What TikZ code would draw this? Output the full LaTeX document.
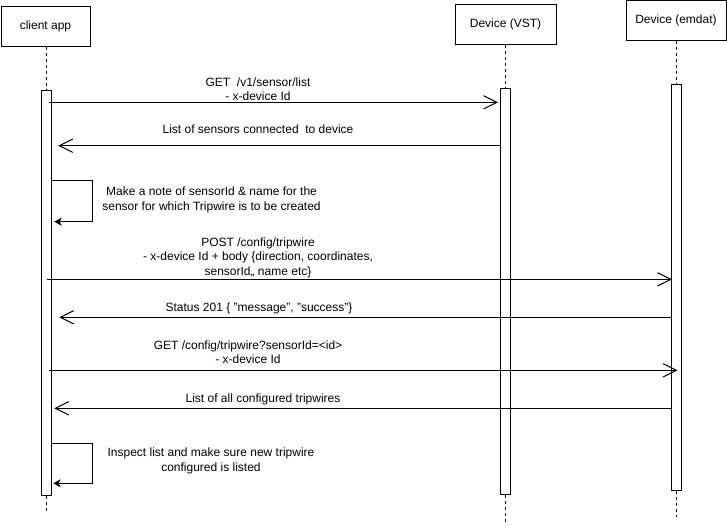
\documentclass[tikz,border=0pt]{standalone}
\usepackage{fontspec}
\setmainfont{Liberation Sans}
\usepackage{tikz}
\usetikzlibrary{arrows.meta}

\begin{document}
\begin{tikzpicture}[x=0.75pt, y=-0.75pt, line width=0.75pt,
                    font=\fontsize{9}{10.8}\selectfont]

                % Styles for the boxes, bars and messages of the sequence
                \tikzset{headbox/.style={draw, fill=white, minimum height=30pt, inner sep=0pt},
                         actbar/.style={draw, fill=white, minimum width=7.25pt, inner sep=0pt},
                         lifeline/.style={dash pattern=on 2.25pt off 2.25pt, line width=0.6pt},
                         msgarrow/.style={-{Straight Barb[length=10pt, width=10pt]}},
                         selfarrow/.style={-{Stealth[length=5.5pt, width=6pt, inset=1.5pt]}},
                         msgtext/.style={align=center, inner sep=0pt}}

                \useasboundingbox (0, 0) rectangle (727, 525);

                % Scope used to place the end points of every message
                \begin{scope}
                    \coordinate (getfrom) at (48.7, 102.3);
                    \coordinate (getto) at (498, 102.3);
                    \coordinate (listfrom) at (500.3, 145.7);
                    \coordinate (listto) at (58.3, 145.7);
                    \coordinate (notefrom) at (51.3, 180);
                    \coordinate (noteturn) at (92.7, 221.7);
                    \coordinate (noteto) at (54.3, 221.7);
                    \coordinate (postfrom) at (46.7, 279.3);
                    \coordinate (postto) at (672, 279.3);
                    \coordinate (statusfrom) at (672, 317.3);
                    \coordinate (statusto) at (59.3, 317.3);
                    \coordinate (queryfrom) at (49.3, 370.3);
                    \coordinate (queryto) at (677.5, 370.3);
                    \coordinate (allfrom) at (671, 408.3);
                    \coordinate (allto) at (54.3, 408.3);
                    \coordinate (checkfrom) at (51.3, 443.3);
                    \coordinate (checkturn) at (92.7, 483.3);
                    \coordinate (checkto) at (53.3, 483.3);
                    \coordinate (clientend) at (46.5, 513);
                    \coordinate (vstend) at (505.3, 521.7);
                    \coordinate (emdatend) at (676.7, 516.7);
                \end{scope}

                % Draws the participants on top
                \begin{scope}
                    \node (clientbox) at (45.5, 26) [headbox, minimum width=66.75pt] {client app};
                    \node (vstbox) at (505.5, 24) [headbox, minimum width=75.75pt] {Device (VST)};
                    \node (emdatbox) at (676, 20.3) [headbox, minimum width=75pt, minimum height=29.6pt] {Device (emdat)};
                \end{scope}

                % Activation bars
                \begin{scope}
                    \node (clientbar) at (46.5, 293.2) [actbar, minimum height=303.75pt] {};
                    \node (vstbar) at (505.3, 291.2) [actbar, minimum height=304.7pt] {};
                    \node (emdatbar) at (676.7, 287) [actbar, minimum height=304.5pt] {};
                \end{scope}

                % Dashed lifelines above and under every bar
                \begin{scope}[lifeline]
                    \draw (clientbar.north |- clientbox.south) -- (clientbar.north);
                    \draw (clientbar.south) -- (clientend);
                    \draw (vstbar.north |- vstbox.south) -- (vstbar.north);
                    \draw (vstbar.south) -- (vstend);
                    \draw (emdatbar.north |- emdatbox.south) -- (emdatbar.north);
                    \draw (emdatbar.south) -- (emdatend);
                \end{scope}

                % Messages between the participants
                \begin{scope}[msgarrow]
                    \draw (getfrom) -- (getto);
                    \draw (listfrom) -- (listto);
                    \draw (postfrom) -- (postto);
                    \draw (statusfrom) -- (statusto);
                    \draw (queryfrom) -- (queryto);
                    \draw (allfrom) -- (allto);
                \end{scope}

                % Self messages of the client
                \begin{scope}[selfarrow]
                    \draw (notefrom) -| (noteturn) -- (noteto);
                    \draw (checkfrom) -| (checkturn) -- (checkto);
                \end{scope}

                \begin{scope}[msgtext]
                    \node (gettext) at (258, 89.5) {GET~ /v1/sensor/list\\- x-device Id};
                    \node (listtext) at (258, 129.5) {List of sensors connected~ to device};
                    \node (notetext) at (211.5, 199.8) {Make a note of sensorId \& name for the\\sensor for which Tripwire is to be created};
                    \node (posttext) at (258, 257.5) {POST /config/tripwire\\- x-device Id + body \{direction, coordinates,\\sensorId,, name etc\}};
                    \node (statustext) at (259, 308.5) {Status 201 \{ "message", "success"\}};
                    \node (querytext) at (248, 352) {GET /config/tripwire?sensorId=<id>\\- x-device Id};
                    \node (alltext) at (263, 399.5) {List of all configured tripwires};
                    \node (checktext) at (211, 460.8) {Inspect list and make sure new tripwire\\configured is listed};
                \end{scope}

                \end{tikzpicture}
\end{document}
